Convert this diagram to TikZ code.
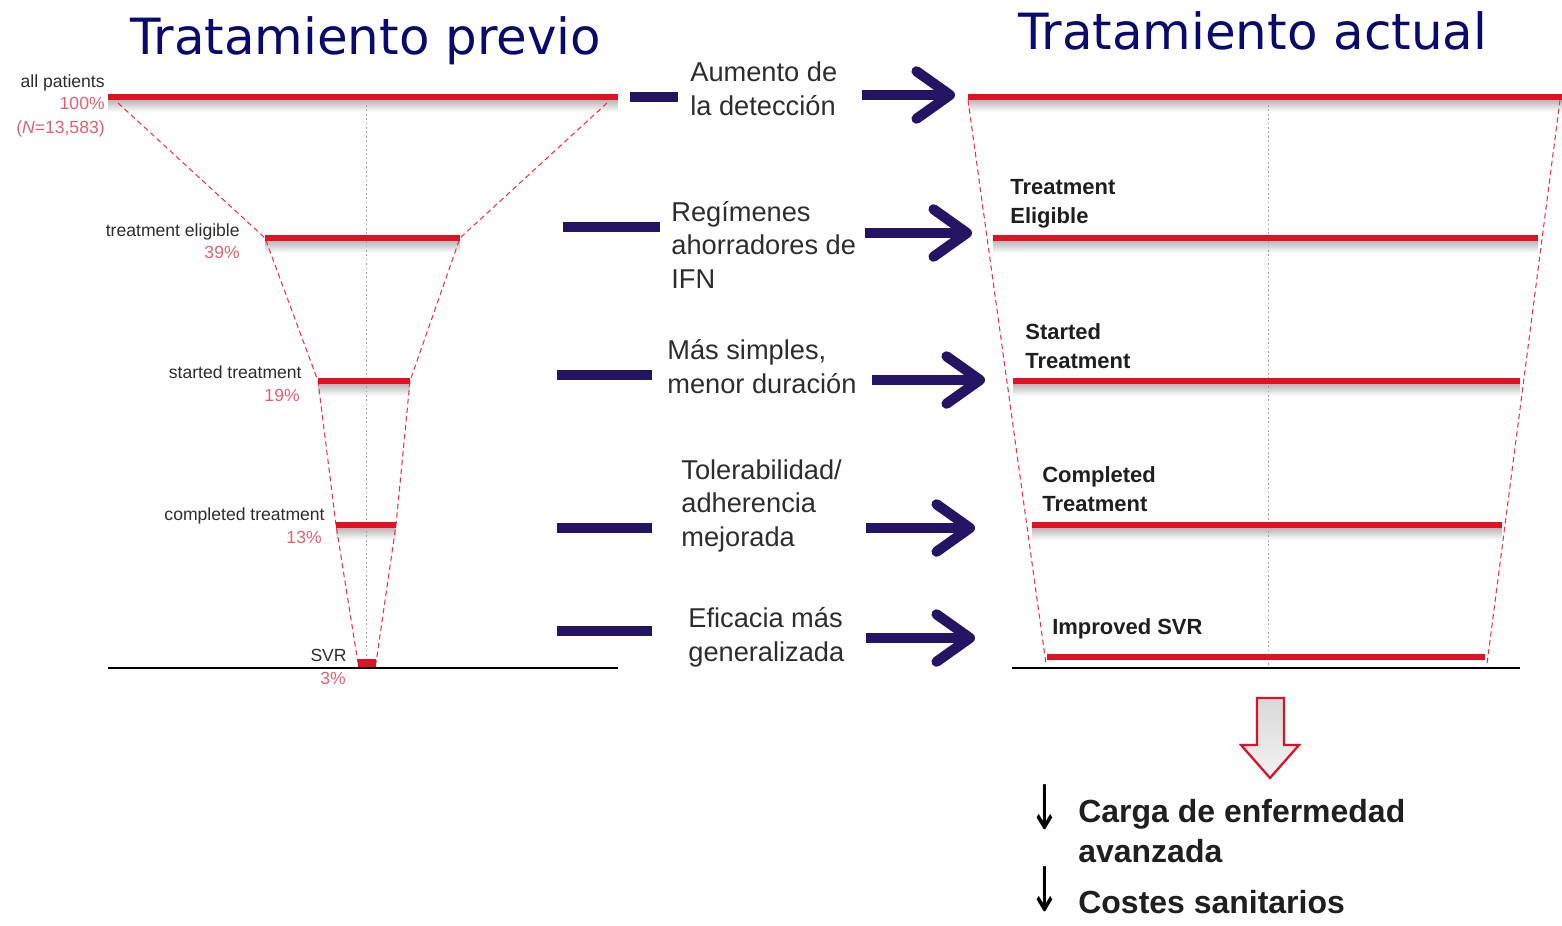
\documentclass[tikz,border=0pt]{standalone}
\usepackage{fontspec}
\setmainfont{Liberation Sans}
\newfontfamily\titlefont{DejaVu Sans}
\newfontfamily\symfont{DejaVu Sans}
\usetikzlibrary{arrows.meta}
\definecolor{navy}{RGB}{35,20,100}
\definecolor{titleblue}{RGB}{10,10,110}
\definecolor{barred}{RGB}{222,18,38}
\definecolor{pct}{RGB}{228,95,115}
\definecolor{txt}{RGB}{45,45,45}
\newcommand{\barshade}[3]{\shade[top color=black!28,bottom color=white] (#1,#3+3) rectangle (#2,#3+15);}
\begin{document}
\begin{tikzpicture}[x=0.02cm,y=-0.02cm,
  redbar/.style={barred,line width=3.8pt},
  funnel/.style={barred!85,line width=0.6pt,dash pattern=on 3pt off 2pt},
  baseaxis/.style={black,line width=1.7pt},
  midline/.style={gray!70,line width=0.5pt,dash pattern=on 1pt off 1.5pt},
  navybar/.style={navy,line width=5.6pt},
  navyarrow/.style={navy,line width=5.8pt,-{Straight Barb[length=19pt,width=27pt,round]}},
  titletext/.style={font=\titlefont\fontsize{28.4}{33}\selectfont,text=titleblue,inner sep=0pt},
  smalllab/.style={font=\fontsize{10}{12}\selectfont,text=txt,inner sep=0pt},
  pctlab/.style={font=\fontsize{10}{12}\selectfont,text=pct,inner sep=0pt},
  midtext/.style={font=\fontsize{15.5}{19}\selectfont,text=txt,align=left,inner sep=0pt},
  rlab/.style={font=\bfseries\fontsize{12.5}{16.4}\selectfont,text=black!88,align=left,inner sep=0pt},
  bigtext/.style={font=\bfseries\fontsize{18.2}{22.7}\selectfont,text=black!88,align=left,inner sep=0pt},
  downsym/.style={font=\symfont\fontsize{35}{35}\selectfont,inner sep=0pt,text depth=0pt}
]
\useasboundingbox (0,0) rectangle (1562,926);

% ---------- titles
\node[titletext,anchor=base west] (tprev) at (130,55) {Tratamiento previo};
\node[titletext,anchor=base west] (tact) at (1018,50) {Tratamiento actual};

% ---------- left funnel coordinates
\coordinate (L0a) at (108,97);  \coordinate (L0b) at (618,97);
\coordinate (L1a) at (265,238); \coordinate (L1b) at (460,238);
\coordinate (L2a) at (318,381); \coordinate (L2b) at (410,381);
\coordinate (L3a) at (336,525); \coordinate (L3b) at (396,525);
\coordinate (L4a) at (358,663); \coordinate (L4b) at (376,663);
\coordinate (LBa) at (108,668); \coordinate (LBb) at (618,668);
\coordinate (F0l) at (118,103); \coordinate (F0r) at (607,103);
\coordinate (Lc0) at (366,105); \coordinate (Lc1) at (366,668);

\barshade{108}{618}{97}
\barshade{265}{460}{238}
\barshade{318}{410}{381}
\barshade{336}{396}{525}
\draw[midline] (Lc0) -- (Lc1);
\draw[funnel] (F0l) -- (L1a) -- (L2a) -- (L3a) -- (L4a);
\draw[funnel] (F0r) -- (L1b) -- (L2b) -- (L3b) -- (L4b);
\draw[redbar] (L0a) -- (L0b);
\draw[redbar] (L1a) -- (L1b);
\draw[redbar] (L2a) -- (L2b);
\draw[redbar] (L3a) -- (L3b);
\draw[baseaxis] (LBa) -- (LBb);
\draw[barred,line width=4.5pt] (L4a) -- (L4b);

% left labels
\node[smalllab,anchor=base east] (lall) at (105,88) {all patients};
\node[pctlab,anchor=base east] (l100) at (105,110) {100\%};
\node[pctlab,anchor=base east] (lN) at (105,133) {(\textit{N}=13,583)};
\node[smalllab,anchor=base east] (lelig) at (240,236) {treatment eligible};
\node[pctlab,anchor=base east] (l39) at (240,258) {39\%};
\node[smalllab,anchor=base east] (lstart) at (302,378) {started treatment};
\node[pctlab,anchor=base east] (l19) at (300,401) {19\%};
\node[smalllab,anchor=base east] (lcomp) at (325,520) {completed treatment};
\node[pctlab,anchor=base east] (l13) at (322,543) {13\%};
\node[smalllab,anchor=base east] (lsvr) at (347,661) {SVR};
\node[pctlab,anchor=base] (l3) at (333,684) {3\%};

% ---------- middle
\coordinate (D1a) at (630,97);  \coordinate (D1b) at (678,97);
\coordinate (D2a) at (563,227); \coordinate (D2b) at (660,227);
\coordinate (D3a) at (557,375); \coordinate (D3b) at (652,375);
\coordinate (D4a) at (557,528); \coordinate (D4b) at (652,528);
\coordinate (D5a) at (557,631); \coordinate (D5b) at (652,631);
\draw[navybar] (D1a) -- (D1b);
\draw[navybar] (D2a) -- (D2b);
\draw[navybar] (D3a) -- (D3b);
\draw[navybar] (D4a) -- (D4b);
\draw[navybar] (D5a) -- (D5b);

\coordinate (A1a) at (862,95);  \coordinate (A1b) at (955,95);
\coordinate (A2a) at (865,233); \coordinate (A2b) at (972,233);
\coordinate (A3a) at (872,380); \coordinate (A3b) at (985,380);
\coordinate (A4a) at (866,528); \coordinate (A4b) at (975,528);
\coordinate (A5a) at (866,638); \coordinate (A5b) at (975,638);
\draw[navyarrow] (A1a) -- (A1b);
\draw[navyarrow] (A2a) -- (A2b);
\draw[navyarrow] (A3a) -- (A3b);
\draw[navyarrow] (A4a) -- (A4b);
\draw[navyarrow] (A5a) -- (A5b);

% multi-line nodes: base anchor = baseline of the last line
\node[midtext,anchor=base west] (m1) at (690,115) {Aumento de\\la detección};
\node[midtext,anchor=base west] (m2) at (671,288) {Regímenes\\ahorradores de\\IFN};
\node[midtext,anchor=base west] (m3) at (667,393) {Más simples,\\menor duración};
\node[midtext,anchor=base west] (m4) at (681,546) {Tolerabilidad/\\adherencia\\mejorada};
\node[midtext,anchor=base west] (m5) at (688,661) {Eficacia más\\generalizada};

% ---------- right funnel
\coordinate (R0a) at (968,97);   \coordinate (R0b) at (1562,97);
\coordinate (R1a) at (993,238);  \coordinate (R1b) at (1538,238);
\coordinate (R2a) at (1013,381); \coordinate (R2b) at (1520,381);
\coordinate (R3a) at (1032,525); \coordinate (R3b) at (1502,525);
\coordinate (R4a) at (1047,657); \coordinate (R4b) at (1485,657);
\coordinate (RBa) at (1012,668); \coordinate (RBb) at (1520,668);
\coordinate (G0l) at (968,100);  \coordinate (G1l) at (1046,664);
\coordinate (G0r) at (1560,100); \coordinate (G1r) at (1487,664);
\coordinate (Rc0) at (1268,105); \coordinate (Rc1) at (1268,668);

\barshade{968}{1562}{97}
\barshade{993}{1538}{238}
\barshade{1013}{1520}{381}
\barshade{1032}{1502}{525}
\draw[midline] (Rc0) -- (Rc1);
\draw[funnel] (G0l) -- (G1l);
\draw[funnel] (G0r) -- (G1r);
\draw[redbar] (R0a) -- (R0b);
\draw[redbar] (R1a) -- (R1b);
\draw[redbar] (R2a) -- (R2b);
\draw[redbar] (R3a) -- (R3b);
\draw[redbar] (R4a) -- (R4b);
\draw[baseaxis] (RBa) -- (RBb);

\node[rlab,anchor=base west] (relig) at (1010,223) {Treatment\\Eligible};
\node[rlab,anchor=base west] (rstart) at (1025,368) {Started\\Treatment};
\node[rlab,anchor=base west] (rcomp) at (1042,511) {Completed\\Treatment};
\node[rlab,anchor=base west] (rsvr) at (1052,634) {Improved SVR};

% ---------- outcome arrow
\draw[barred,line width=1.3pt,line join=miter,top color=gray!30,bottom color=gray!10]
  (1257,698) -- (1284,698) -- (1284,745) -- (1299,745) -- (1270,778)
  -- (1241,745) -- (1257,745) -- cycle;

\node[downsym,anchor=base] (down1) at (1045,829) {\scalebox{0.6}[1]{↓}};
\node[bigtext,anchor=base west] (carga) at (1078,862) {Carga de enfermedad\\avanzada};
\node[downsym,anchor=base] (down2) at (1045,911) {\scalebox{0.6}[1]{↓}};
\node[bigtext,anchor=base west] (costes) at (1078,913) {Costes sanitarios};
\end{tikzpicture}
\end{document}
